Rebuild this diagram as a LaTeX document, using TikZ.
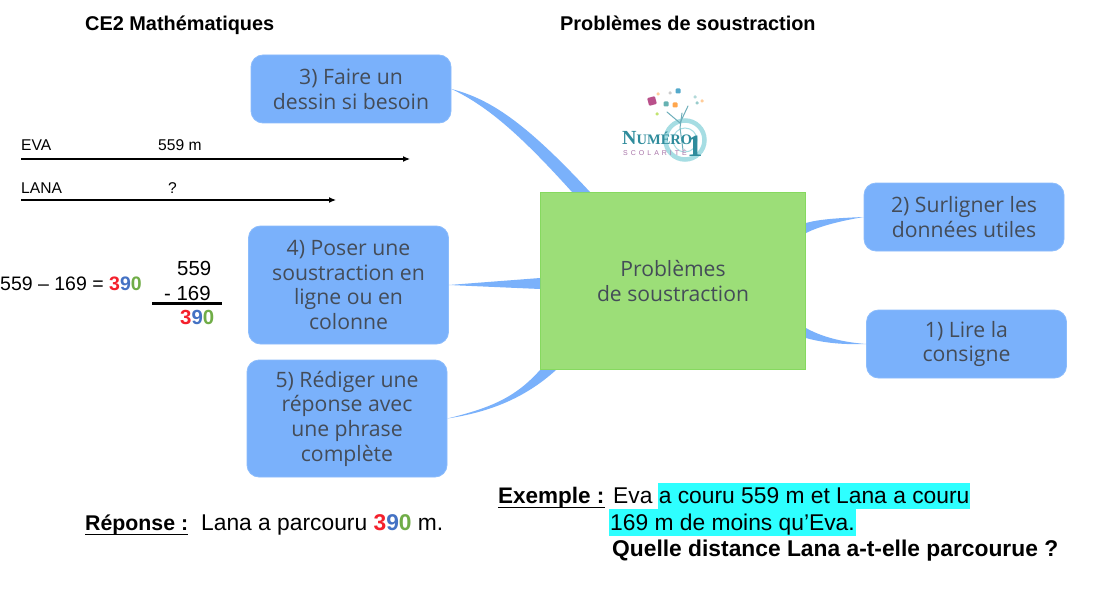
\documentclass[tikz,border=0pt]{standalone}
\usepackage{fontspec}
\setmainfont{Liberation Sans}
\newfontfamily\boxfont{Open Sans}
\newfontfamily\logofont{Liberation Serif}
\usetikzlibrary{calc,arrows.meta}
\definecolor{boxblue}{HTML}{7AB1FB}
\definecolor{boxedge}{HTML}{8BBCFC}
\definecolor{ctrgreen}{HTML}{9CDE78}
\definecolor{ctredge}{HTML}{86D95F}
\definecolor{boxtext}{HTML}{444C58}
\definecolor{hl}{HTML}{2EFFFF}
\definecolor{dred}{HTML}{F4202C}
\definecolor{dblue}{HTML}{4472C4}
\definecolor{dgreen}{HTML}{70AD47}
\definecolor{logoteal}{HTML}{2F8C9C}
\definecolor{logoring}{HTML}{A6DDE3}
\definecolor{logopink}{HTML}{A873A8}
\definecolor{logomag}{HTML}{B9508A}
\newcommand{\tricol}{\textbf{\textcolor{dred}{3}\textcolor{dblue}{9}\textcolor{dgreen}{0}}}
\tikzset{
  x=1pt,y=-1pt,
  mapbox/.style={draw=boxedge,line width=.8pt,fill=boxblue,rounded corners=12pt,minimum width=200pt,inner sep=0pt,
    align=center,text=boxtext,font=\boxfont\fontsize{21.2}{24.7}\selectfont},
  hub/.style={draw=ctredge,line width=1pt,fill=ctrgreen,minimum width=265pt,minimum height=177pt,inner sep=0pt,
    align=center,text=boxtext,font=\boxfont\fontsize{21.1}{25}\selectfont},
  link/.style={fill=boxblue,draw=none},
  txt/.style={anchor=base west,inner sep=0pt,text=black},
  head/.style={txt,font=\bfseries\fontsize{19.9}{22}\selectfont},
  body/.style={txt,font=\fontsize{22.8}{26}\selectfont},
  small/.style={txt,font=\fontsize{15.6}{17}\selectfont},
  calcA/.style={txt,font=\fontsize{19.5}{22}\selectfont},
  calcB/.style={txt,font=\fontsize{20.4}{22}\selectfont},
  ulbar/.style={draw=black,line width=1.6pt},
  barrow/.style={draw=black,line width=1.2pt,-{Latex[length=7pt,width=6pt]}},
  bit/.style={rounded corners=1pt,minimum size=5pt,inner sep=0pt},
}
\begin{document}
\begin{tikzpicture}
\useasboundingbox (0,0) rectangle (1113,615);
\fill[white] (0,0) rectangle (1113,615);

% highlight
\fill[hl] (658,483) rectangle (970,509);
\fill[hl] (609,509) rectangle (856,536);

% boxes
\node[mapbox,minimum height=68pt] (n3) at (351,89) {3) Faire un\\dessin si besoin};
\node[mapbox,minimum height=118pt] (n4) at (348.5,285) {4) Poser une\\soustraction en\\ligne ou en\\colonne};
\node[mapbox,minimum height=117pt] (n5) at (347,418.5) {5) Rédiger une\\réponse avec\\une phrase\\complète};
\node[mapbox,minimum height=68pt] (n2) at (964,217) {2) Surligner les\\données utiles};
\node[mapbox,minimum height=68pt] (n1) at (966.5,344) {1) Lire la\\consigne};
\node[hub] (ctr) at (673,281) {Problèmes\\de soustraction};

% tapered connectors
\path[link] (n3.east) .. controls (490,99) and (525,122) .. ($(ctr.north west)+(50,0)$)
  -- ($(ctr.north west)+(32,0)$) .. controls (525,140) and (490,107) .. (n3.east) -- cycle;
\path[link] (n4.east) -- ($(ctr.west)+(0,-3)$) -- ($(ctr.west)+(0,8)$) -- cycle;
\path[link] (n5.east) .. controls (490,408) and (515,398) .. (ctr.south west)
  -- ($(ctr.south west)+(16,0)$) .. controls (525,398) and (490,412) .. (n5.east) -- cycle;
\path[link] (n2.west) .. controls (840,218) and (820,219) .. ($(ctr.east)+(0,-58)$)
  -- ($(ctr.east)+(0,-48)$) .. controls (820,226) and (840,221) .. (n2.west) -- cycle;
\path[link] (n1.west) .. controls (840,342) and (820,336) .. ($(ctr.east)+(0,47)$)
  -- ($(ctr.east)+(0,57)$) .. controls (820,342) and (840,345) .. (n1.west) -- cycle;

% titles
\node[head] (t1) at (85,31) {CE2 Mathématiques};
\node[head] (t2) at (560,31) {Problèmes de soustraction};

% bar model
\coordinate (evaS) at (21,159); \coordinate (evaE) at (410,159);
\coordinate (lanaS) at (21,200); \coordinate (lanaE) at (336,200);
\draw[barrow] (evaS) -- (evaE);
\draw[barrow] (lanaS) -- (lanaE);
\node[small] (l1) at (21,150.5) {EVA};
\node[small] (l2) at (158,150.5) {559 m};
\node[small] (l3) at (21,193) {LANA};
\node[small] (l4) at (168,193) {?};

% calculation
\node[calcA] (c1) at (0,290) {559 – 169 = \tricol};
\node[calcB] (c2) at (177,275) {559};
\node[calcB] (c3) at (164,300) {- 169};
\coordinate (ruleS) at (152,303.5); \coordinate (ruleE) at (222,303.5);
\draw[line width=2.2pt] (ruleS) -- (ruleE);
\node[calcB] (c4) at (180,324) {\tricol};

% answer
\node[txt,font=\fontsize{21.3}{24}\selectfont] (r1) at (85,530.5) {\textbf{Réponse :}};
\draw[ulbar] ($(r1.base west)+(0,4)$) -- ($(r1.base east)+(0,4)$);
\node[body] (r2) at (201,530.5) {Lana a parcouru \tricol{} m.};

% example
\node[txt,font=\fontsize{22.5}{26}\selectfont] (e1) at (498,503.5) {\textbf{Exemple :}};
\draw[ulbar] ($(e1.base west)+(0,4)$) -- ($(e1.base east)+(0,4)$);
\node[body] (e2) at (613,503.5) {Eva a couru 559 m et Lana a couru};
\node[body] (e3) at (610,530.5) {169 m de moins qu’Eva.};
\node[body] (e4) at (612,556.5) {\textbf{Quelle distance Lana a-t-elle parcourue ?}};

% logo
\draw[logoring,line width=4.5pt] (685,140) circle (19.5pt);
\draw[logoring,line width=1pt] (685,140) circle (12pt);
\draw[logoteal!70,line width=1pt,line cap=round] (682,113) -- (680,128) -- (683,150);
\draw[logoteal!70,line width=1pt,line cap=round] (667,112) -- (680,123) -- (688,106);
\node[txt,text=logoteal,font=\logofont\bfseries\fontsize{20}{21}\selectfont] (lg1) at (622,144.5)
  {N\fontsize{14.5}{16}\selectfont UMÉRO};
\node[txt,text=logoteal,font=\logofont\bfseries\fontsize{31}{32}\selectfont] (lg2) at (687,157) {1};
\node[txt,text=logopink,font=\fontsize{7}{8}\selectfont] (lg3) at (623,155)
  {S\hspace{3pt}C\hspace{3pt}O\hspace{3pt}L\hspace{3pt}A\hspace{3pt}R\hspace{3pt}I\hspace{3pt}T\hspace{3pt}É};
\node[bit,fill=logomag,minimum size=8pt,rotate=15] (b1) at (652,101) {};
\node[bit,fill=teal!60] (b2) at (666,104) {};
\node[bit,fill=orange!70] (b3) at (675,105) {};
\node[bit,fill=cyan!60!gray] (b4) at (678,91) {};
\node[bit,fill=orange!40,minimum size=3pt] (b5) at (658,94) {};
\node[bit,fill=yellow!60!green!60,minimum size=3pt] (b6) at (657,114) {};
\node[bit,fill=teal!30,minimum size=3pt] (b7) at (695,97) {};
\node[bit,fill=teal!40,minimum size=3pt] (b8) at (697,103) {};
\node[bit,fill=orange!40,minimum size=3pt] (b9) at (702,101) {};
\node[bit,fill=gray!40,minimum size=3pt] (b10) at (670,93) {};
\end{tikzpicture}
\end{document}
